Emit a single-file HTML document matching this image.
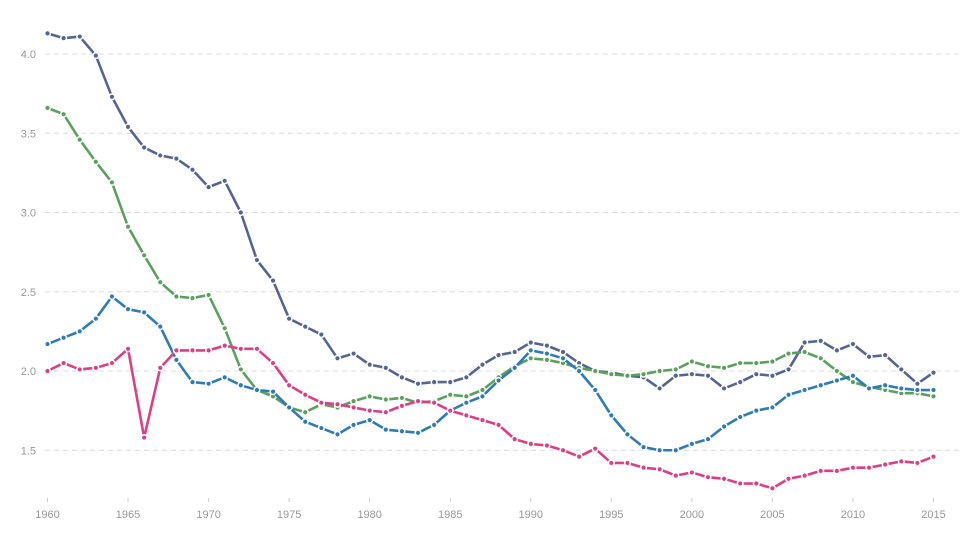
<!DOCTYPE html>
<html><head><meta charset="utf-8"><style>
body{margin:0;background:#fff;}
svg{display:block;font-family:"Liberation Sans",sans-serif;}
</style></head><body>
<svg id="chart" width="968" height="543"></svg>
<script>
const years = [];
for (let y = 1960; y <= 2015; y++) years.push(y);
const yTicks = [1.5, 2.0, 2.5, 3.0, 3.5, 4.0];
const xTicks = [1960,1965,1970,1975,1980,1985,1990,1995,2000,2005,2010,2015];
const seriesNavy = [4.13,4.10,4.11,3.99,3.73,3.54,3.41,3.36,3.34,3.27,3.16,3.20,3.00,2.70,2.57,2.33,2.28,2.23,2.08,2.11,2.04,2.02,1.96,1.92,1.93,1.93,1.96,2.04,2.10,2.12,2.18,2.16,2.12,2.05,2.00,1.99,1.97,1.96,1.89,1.97,1.98,1.97,1.89,1.93,1.98,1.97,2.01,2.18,2.19,2.13,2.17,2.09,2.10,2.01,1.92,1.99];
const seriesGreen = [3.66,3.62,3.46,3.32,3.19,2.91,2.73,2.56,2.47,2.46,2.48,2.27,2.01,1.88,1.84,1.77,1.74,1.79,1.77,1.81,1.84,1.82,1.83,1.80,1.81,1.85,1.84,1.88,1.96,2.03,2.08,2.07,2.05,2.02,2.00,1.98,1.97,1.98,2.00,2.01,2.06,2.03,2.02,2.05,2.05,2.06,2.11,2.12,2.08,2.00,1.93,1.90,1.88,1.86,1.86,1.84];
const seriesBlue = [2.17,2.21,2.25,2.33,2.47,2.39,2.37,2.28,2.07,1.93,1.92,1.96,1.91,1.88,1.87,1.77,1.68,1.64,1.60,1.66,1.69,1.63,1.62,1.61,1.66,1.75,1.80,1.84,1.94,2.02,2.13,2.11,2.08,2.00,1.88,1.72,1.60,1.52,1.50,1.50,1.54,1.57,1.65,1.71,1.75,1.77,1.85,1.88,1.91,1.94,1.97,1.89,1.91,1.89,1.88,1.88];
const seriesPink = [2.00,2.05,2.01,2.02,2.05,2.14,1.58,2.02,2.13,2.13,2.13,2.16,2.14,2.14,2.05,1.91,1.85,1.80,1.79,1.77,1.75,1.74,1.78,1.81,1.80,1.75,1.72,1.69,1.66,1.57,1.54,1.53,1.50,1.46,1.51,1.42,1.42,1.39,1.38,1.34,1.36,1.33,1.32,1.29,1.29,1.26,1.32,1.34,1.37,1.37,1.39,1.39,1.41,1.43,1.42,1.46];

const NS = "http://www.w3.org/2000/svg";
const svg = document.getElementById("chart");
const xs = yr => 47.5 + (yr - 1960) * (933.5 - 47.5) / 55;
const ys = v => 371 - (v - 2) * 158.5;
function mk(tag, attrs, parent) {
  const e = document.createElementNS(NS, tag);
  for (const k in attrs) e.setAttribute(k, attrs[k]);
  (parent || svg).appendChild(e);
  return e;
}
yTicks.forEach(t => {
  const g = mk("line", {x1: 45, x2: 962, y1: ys(t), y2: ys(t), stroke: "#dcdcdc", "stroke-dasharray": "5 4", "stroke-width": 1});
  
  
  const l = mk("text", {x: 36, y: ys(t) + 4, "text-anchor": "end", "font-size": 11, fill: "#999"});
  l.textContent = t.toFixed(1);
  
  
});
xTicks.forEach(t => {
  const tk = mk("line", {x1: xs(t), x2: xs(t), y1: 498, y2: 502, stroke: "#ccc"});
  
  
  const l = mk("text", {x: xs(t), y: 518, "text-anchor": "middle", "font-size": 11, fill: "#999"});
  l.textContent = t;
  
  
});
const series = [
  ["series-navy", seriesNavy, "#56658f"],
  ["series-green", seriesGreen, "#5ba05e"],
  ["series-blue", seriesBlue, "#2f7cb5"],
  ["series-pink", seriesPink, "#db3f86"]
];
series.forEach(([name, data, col]) => {
  const g = mk("g", {});
  
  
  const pts = data.map((v, i) => xs(years[i]) + "," + ys(v)).join(" ");
  mk("polyline", {points: pts, fill: "none", stroke: col, "stroke-width": 2.6, "stroke-linejoin": "round"}, g);
  data.forEach((v, i) => {
    mk("circle", {cx: xs(years[i]), cy: ys(v), r: 3.6, fill: "#fff"}, g);
    const c = mk("circle", {cx: xs(years[i]), cy: ys(v), r: 2.1, fill: col}, g);
    
    
  });
});
</script>
</body></html>
